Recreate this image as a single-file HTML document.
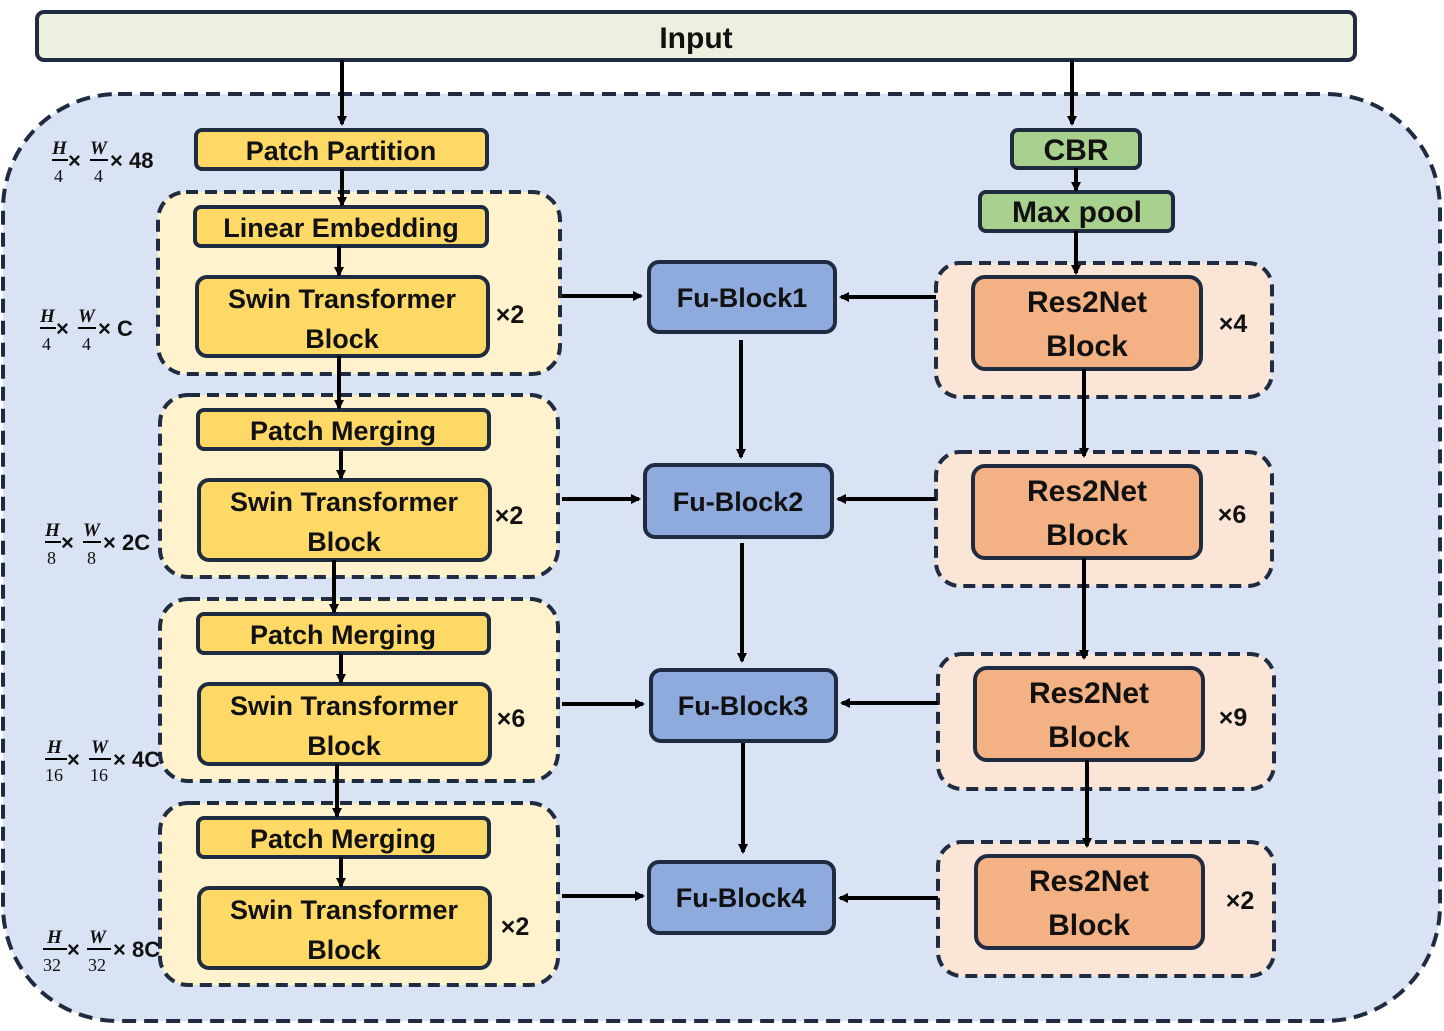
<!DOCTYPE html>
<html><head><meta charset="utf-8"><style>
html,body{margin:0;padding:0;background:#fff}
svg text{font-family:"Liberation Sans",sans-serif;font-weight:bold;fill:#111}
.f{font-family:"Liberation Serif",serif;font-weight:normal;font-size:18px}
.fi{font-family:"Liberation Serif",serif;font-style:italic;font-weight:bold;font-size:19px}
</style></head><body>
<svg width="1444" height="1026" viewBox="0 0 1444 1026" xmlns="http://www.w3.org/2000/svg">
<defs><marker id="a" markerWidth="10" markerHeight="10" refX="8" refY="5" orient="auto" markerUnits="userSpaceOnUse"><path d="M0,0 L10,5 L0,10 z" fill="#000"/></marker></defs>
<rect x="37" y="12" width="1318" height="48" rx="7" fill="#ebf1de" stroke="#1e2b40" stroke-width="4"/>
<text x="696" y="48" font-size="30" text-anchor="middle">Input</text>
<rect x="3" y="94" width="1437" height="927" rx="115" fill="#dae3f3" stroke="#1e2b40" stroke-width="4" stroke-dasharray="14,8"/>
<g stroke="#1e2b40" stroke-width="4" stroke-dasharray="12,7">
<rect x="158" y="192" width="402" height="182" rx="28" fill="#fff2cc"/>
<rect x="160" y="395" width="398" height="182" rx="28" fill="#fff2cc"/>
<rect x="160" y="599" width="398" height="182" rx="28" fill="#fff2cc"/>
<rect x="160" y="803" width="398" height="182" rx="28" fill="#fff2cc"/>
<rect x="936" y="263" width="336" height="134" rx="24" fill="#fbe5d6"/>
<rect x="936" y="452" width="336" height="134" rx="24" fill="#fbe5d6"/>
<rect x="938" y="654" width="336" height="135" rx="24" fill="#fbe5d6"/>
<rect x="938" y="842" width="336" height="134" rx="24" fill="#fbe5d6"/>
</g>
<g stroke="#1e2b40" stroke-width="4">
<rect x="196" y="130" width="291" height="39" rx="6" fill="#ffd966"/>
<rect x="195" y="207" width="292" height="39" rx="6" fill="#ffd966"/>
<rect x="197" y="277" width="291" height="79" rx="10" fill="#ffd966"/>
<rect x="198" y="410" width="291" height="39" rx="6" fill="#ffd966"/>
<rect x="199" y="480" width="291" height="80" rx="10" fill="#ffd966"/>
<rect x="198" y="614" width="291" height="39" rx="6" fill="#ffd966"/>
<rect x="199" y="684" width="291" height="80" rx="10" fill="#ffd966"/>
<rect x="198" y="818" width="291" height="39" rx="6" fill="#ffd966"/>
<rect x="199" y="888" width="291" height="80" rx="10" fill="#ffd966"/>
<rect x="649" y="262" width="186" height="70" rx="10" fill="#8faadc"/>
<rect x="645" y="465" width="187" height="72" rx="10" fill="#8faadc"/>
<rect x="651" y="670" width="185" height="71" rx="10" fill="#8faadc"/>
<rect x="649" y="862" width="185" height="71" rx="10" fill="#8faadc"/>
<rect x="1012" y="130" width="128" height="38" rx="6" fill="#a9d18e"/>
<rect x="980" y="192" width="193" height="39" rx="6" fill="#a9d18e"/>
<rect x="973" y="277" width="228" height="92" rx="12" fill="#f4b183"/>
<rect x="973" y="466" width="228" height="92" rx="12" fill="#f4b183"/>
<rect x="975" y="668" width="228" height="92" rx="12" fill="#f4b183"/>
<rect x="976" y="856" width="227" height="92" rx="12" fill="#f4b183"/>
</g>
<g font-size="27" text-anchor="middle">
<text x="341" y="160">Patch Partition</text>
<text x="341" y="237">Linear Embedding</text>
<text x="342" y="308">Swin Transformer</text><text x="342" y="348">Block</text>
<text x="343" y="440">Patch Merging</text>
<text x="344" y="511">Swin Transformer</text><text x="344" y="551">Block</text>
<text x="343" y="644">Patch Merging</text>
<text x="344" y="715">Swin Transformer</text><text x="344" y="755">Block</text>
<text x="343" y="848">Patch Merging</text>
<text x="344" y="919">Swin Transformer</text><text x="344" y="959">Block</text>
<text x="742" y="307">Fu-Block1</text>
<text x="738" y="511">Fu-Block2</text>
<text x="743" y="715">Fu-Block3</text>
<text x="741" y="907">Fu-Block4</text>
<text x="1076" y="160" font-size="30">CBR</text>
<text x="1077" y="222" font-size="30">Max pool</text>
<g font-size="30">
<text x="1087" y="312">Res2Net</text><text x="1087" y="356">Block</text>
<text x="1087" y="501">Res2Net</text><text x="1087" y="545">Block</text>
<text x="1089" y="703">Res2Net</text><text x="1089" y="747">Block</text>
<text x="1089" y="891">Res2Net</text><text x="1089" y="935">Block</text>
</g>
<text x="510" y="323" font-size="25">×2</text>
<text x="509" y="524" font-size="25">×2</text>
<text x="511" y="727" font-size="25">×6</text>
<text x="515" y="935" font-size="25">×2</text>
<text x="1233" y="332" font-size="25">×4</text>
<text x="1232" y="523" font-size="25">×6</text>
<text x="1233" y="726" font-size="25">×9</text>
<text x="1240" y="909" font-size="25">×2</text>
</g>
<g stroke="#000" stroke-width="4" fill="none" marker-end="url(#a)">
<line x1="342" y1="60" x2="342" y2="124"/>
<line x1="1072" y1="60" x2="1072" y2="124"/>
<line x1="342" y1="169" x2="342" y2="205"/>
<line x1="339" y1="246" x2="339" y2="275"/>
<line x1="339" y1="356" x2="339" y2="408"/>
<line x1="341" y1="449" x2="341" y2="478"/>
<line x1="334" y1="560" x2="334" y2="612"/>
<line x1="341" y1="653" x2="341" y2="682"/>
<line x1="337" y1="764" x2="337" y2="816"/>
<line x1="341" y1="857" x2="341" y2="886"/>
<line x1="1076" y1="168" x2="1076" y2="190"/>
<line x1="1076" y1="231" x2="1076" y2="273"/>
<line x1="1084" y1="369" x2="1084" y2="456"/>
<line x1="1084" y1="558" x2="1084" y2="658"/>
<line x1="1087" y1="760" x2="1087" y2="846"/>
<line x1="741" y1="340" x2="741" y2="457"/>
<line x1="742" y1="543" x2="742" y2="661"/>
<line x1="743" y1="743" x2="743" y2="852"/>
<line x1="562" y1="296" x2="641" y2="296"/>
<line x1="562" y1="499" x2="639" y2="499"/>
<line x1="562" y1="704" x2="643" y2="704"/>
<line x1="562" y1="896" x2="643" y2="896"/>
<line x1="936" y1="297" x2="841" y2="297"/>
<line x1="936" y1="499" x2="838" y2="499"/>
<line x1="938" y1="703" x2="842" y2="703"/>
<line x1="938" y1="898" x2="840" y2="898"/>
</g>
<g>
<g transform="translate(52,148)"><text class="fi" x="0" y="6">H</text><line x1="0" y1="12" x2="16" y2="12" stroke="#000" stroke-width="2"/><text class="f" x="2" y="34">4</text><text x="16" y="20" font-size="22">×</text>
<text class="fi" x="38" y="6">W</text><line x1="38" y1="12" x2="56" y2="12" stroke="#000" stroke-width="2"/><text class="f" x="42" y="34">4</text><text x="58" y="20" font-size="22">× 48</text></g>
<g transform="translate(40,316)"><text class="fi" x="0" y="6">H</text><line x1="0" y1="12" x2="16" y2="12" stroke="#000" stroke-width="2"/><text class="f" x="2" y="34">4</text><text x="16" y="20" font-size="22">×</text>
<text class="fi" x="38" y="6">W</text><line x1="38" y1="12" x2="56" y2="12" stroke="#000" stroke-width="2"/><text class="f" x="42" y="34">4</text><text x="58" y="20" font-size="22">× C</text></g>
<g transform="translate(45,530)"><text class="fi" x="0" y="6">H</text><line x1="0" y1="12" x2="16" y2="12" stroke="#000" stroke-width="2"/><text class="f" x="2" y="34">8</text><text x="16" y="20" font-size="22">×</text>
<text class="fi" x="38" y="6">W</text><line x1="38" y1="12" x2="56" y2="12" stroke="#000" stroke-width="2"/><text class="f" x="42" y="34">8</text><text x="58" y="20" font-size="22">× 2C</text></g>
<g transform="translate(47,747)"><text class="fi" x="0" y="6">H</text><line x1="-2" y1="12" x2="20" y2="12" stroke="#000" stroke-width="2"/><text class="f" x="-2" y="34">16</text><text x="20" y="20" font-size="22">×</text>
<text class="fi" x="44" y="6">W</text><line x1="42" y1="12" x2="64" y2="12" stroke="#000" stroke-width="2"/><text class="f" x="43" y="34">16</text><text x="66" y="20" font-size="22">× 4C</text></g>
<g transform="translate(47,937)"><text class="fi" x="0" y="6">H</text><line x1="-4" y1="12" x2="20" y2="12" stroke="#000" stroke-width="2"/><text class="f" x="-4" y="34">32</text><text x="20" y="20" font-size="22">×</text>
<text class="fi" x="42" y="6">W</text><line x1="40" y1="12" x2="64" y2="12" stroke="#000" stroke-width="2"/><text class="f" x="41" y="34">32</text><text x="66" y="20" font-size="22">× 8C</text></g>
</g>
</svg>
</body></html>
